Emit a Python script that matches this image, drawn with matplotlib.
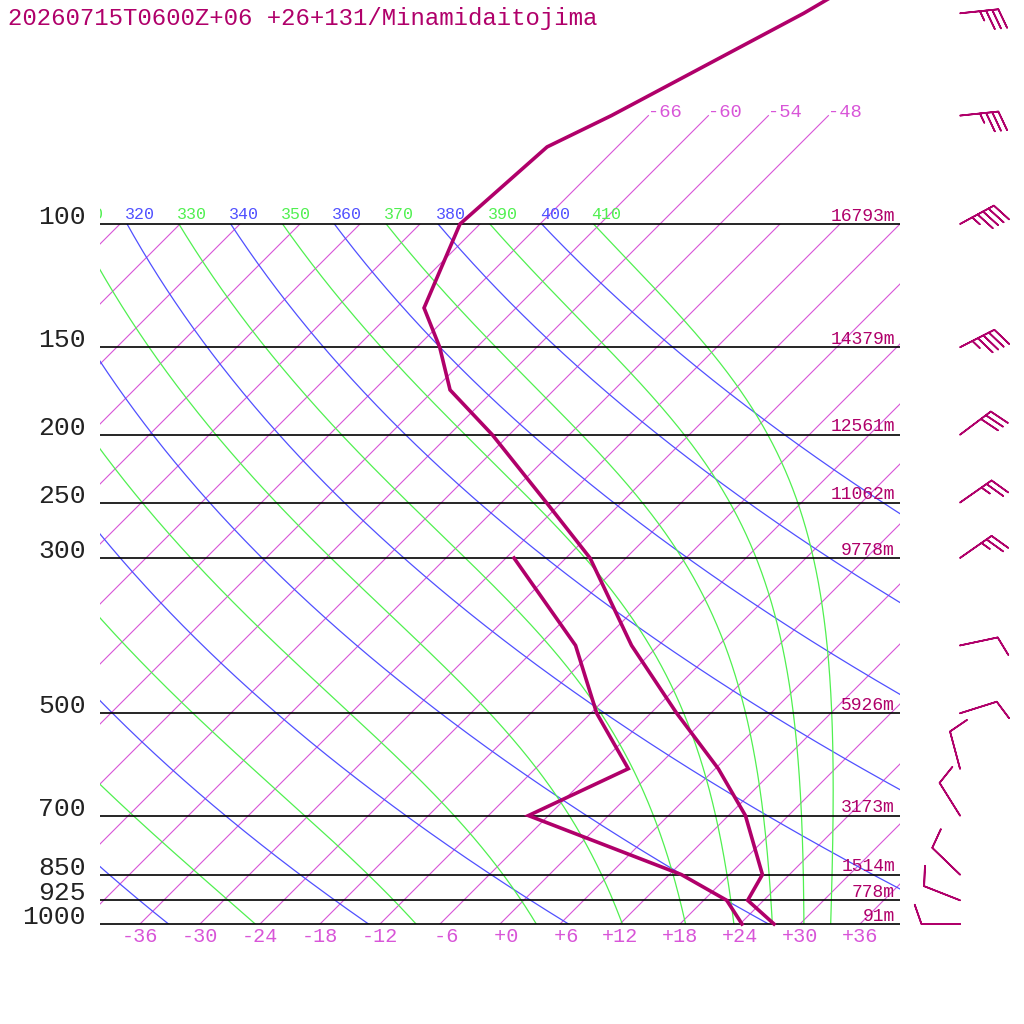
import numpy as np
import matplotlib
matplotlib.use("Agg")
import matplotlib.pyplot as plt
from matplotlib.patches import Rectangle

plt.rcParams['font.family'] = ['Liberation Mono', 'DejaVu Sans Mono']

title = "20260715T0600Z+06 +26+131/Minamidaitojima"

# sounding
temp_p = [1000, 925, 850, 700, 600, 500, 400, 300, 250, 200, 172.6, 150, 131.8, 100, 77.6, 70, 50, 47.5]
temp_t = [27.4, 22.4, 21.3, 13.7, 6.3, -3.4, -14.7, -27.6, -37.5, -49.7, -58.4, -63.7, -69.2, -74.0, -73.0, -69.7, -60.7, -59.6]
dew_p = [1000, 925, 850, 700, 600, 500, 400, 300]
dew_t = [24.2, 20.3, 13.2, -8.0, -2.7, -11.4, -20.3, -35.2]

# standard levels with geopotential heights
lev_p = [100, 150, 200, 250, 300, 500, 700, 850, 925, 1000]
lev_h = ["16793m", "14379m", "12561m", "11062m", "9778m", "5926m", "3173m", "1514m", "778m", "91m"]

# winds: pressure, direction (deg), speed (kt)
wind_p = [50, 70, 100, 150, 200, 250, 300, 400, 500, 600, 700, 850, 925, 1000]
wind_dir = [84, 84, 61.5, 63, 53, 55, 55, 78, 72.5, 345, 328, 314, 291.5, 270]
wind_spd = [35, 35, 45, 45, 30, 25, 25, 10, 10, 10, 10, 10, 10, 10]

temp_ticks = [-36, -30, -24, -18, -12, -6, 0, 6, 12, 18, 24, 30, 36]
top_isotherms = [-66, -60, -54, -48]
dry_thetas = [240, 260, 280, 300, 320, 340, 360, 380, 400]
moist_thetas = [230, 250, 270, 290, 310, 330, 350, 370, 390, 410]

SKEW = 30.4
RD, CP, LV, EPS = 287.04, 1005.7, 2.501e6, 0.622

curve_col = "#b0006a"
iso_col = "#d855d8"
blue = "#5050ff"
green = "#50f050"


def skx(t, p):
    return np.asarray(t, float) + SKEW * np.log(1000.0 / np.asarray(p, float))


def dry_adiabat(theta, p):
    return theta * (p / 1000.0) ** (RD / CP) - 273.15


def moist_rate(t, p):
    es = 6.112 * np.exp(17.67 * (t - 273.15) / (t - 29.65))
    rs = EPS * es / (p - es)
    return (RD * t + LV * rs) / (p * (CP + LV * LV * rs * EPS / (RD * t * t)))


def moist_adiabat(theta, p):
    t = theta * (p[0] / 1000.0) ** (RD / CP)
    out = [t]
    for i in range(1, len(p)):
        h = p[i] - p[i - 1]
        k1 = moist_rate(t, p[i - 1])
        k2 = moist_rate(t + h * k1 / 2, p[i - 1] + h / 2)
        k3 = moist_rate(t + h * k2 / 2, p[i - 1] + h / 2)
        k4 = moist_rate(t + h * k3, p[i])
        t = t + h * (k1 + 2 * k2 + 2 * k3 + k4) / 6
        out.append(t)
    return np.array(out) - 273.15


fig = plt.figure(figsize=(10.24, 10.24), dpi=100)
ax = fig.add_axes([0, 0, 1, 1])
ax.set_yscale('log')
ax.set_xlim(-50, 52.4)
ax.set_ylim(1000 * np.exp(100 / 304), 1000 * np.exp(-924 / 304))
ax.axis('off')

box = Rectangle((-40, 100), 80, 900, transform=ax.transData, fill=False)
labbox = Rectangle((-40, 40), 100, 2000, transform=ax.transData, fill=False)

pp = np.linspace(100, 1000, 901)

# isotherms
for t in range(-108, 37, 6):
    ln, = ax.plot(skx([t, t], [1000, 100]), [1000, 100], color=iso_col, lw=0.8)
    ln.set_clip_path(box)
for t in top_isotherms:
    ax.plot(skx([t, t], [100, 70]), [100, 70], color=iso_col, lw=0.8)
    ax.annotate(str(t), (skx(t, 70), 70), xytext=(0, -1), textcoords='offset points',
                ha='left', va='baseline', color=iso_col, fontsize=13.5)

# dry adiabats
for th in dry_thetas:
    ln, = ax.plot(skx(dry_adiabat(th, pp), pp), pp, color=blue, lw=0.9)
    ln.set_clip_path(box)

# moist adiabats
for th in moist_thetas:
    ln, = ax.plot(skx(moist_adiabat(th, pp), pp), pp, color=green, lw=0.9)
    ln.set_clip_path(box)

# adiabat labels along the 100 hPa line (cut at the left edge of the diagram)
for th in range(310, 411, 10):
    col = blue if th % 20 == 0 else green
    lab = str(th)
    shift = 0
    x0 = skx(dry_adiabat(th, 100.0), 100)
    while x0 + shift < -40.5 and len(lab) > 1:
        lab = lab[1:]
        shift += 1.0
    txt = ax.annotate(lab, (x0 + shift, 100), xytext=(-1.5, 3.5),
                      textcoords='offset points', ha='left', va='baseline',
                      color=col, fontsize=12)
    txt.set_clip_path(labbox)

# pressure lines, labels and heights
ax.hlines(lev_p, -40, 40, color="black", lw=1.2)
for p, h in zip(lev_p, lev_h):
    ax.text(-41.4, p, str(p), ha='right', va='baseline', fontsize=19, color="#222222")
    ax.annotate(h, (39.5, p), xytext=(0, 2.5), textcoords='offset points',
                ha='right', va='baseline', fontsize=13, color=curve_col)

# temperature tick labels
for t in temp_ticks:
    lab = ("+%d" % t) if t >= 0 else str(t)
    ax.annotate("%3s" % lab, (t, 1000), xytext=(0, -13), textcoords='offset points',
                ha='center', va='baseline', fontsize=14.5, color=iso_col)

# sounding
ax.plot(skx(temp_t, temp_p), temp_p, color=curve_col, lw=2.6, solid_joinstyle='miter')
ax.plot(skx(dew_t, dew_p), dew_p, color=curve_col, lw=2.6, solid_joinstyle='miter')

# wind barbs
wd = np.radians(wind_dir)
u = -np.array(wind_spd) * np.sin(wd)
v = -np.array(wind_spd) * np.cos(wd)
ax.barbs(np.full(len(wind_p), 46.0), wind_p, u, v, length=7.45, color=curve_col,
         linewidth=1.2, sizes=dict(height=0.5, width=0.35, spacing=0.16))

fig.text(8 / 1024, 1 - 25 / 1024, title, ha='left', va='baseline', fontsize=17.3, color=curve_col)

fig.savefig("out.png", dpi=100)
